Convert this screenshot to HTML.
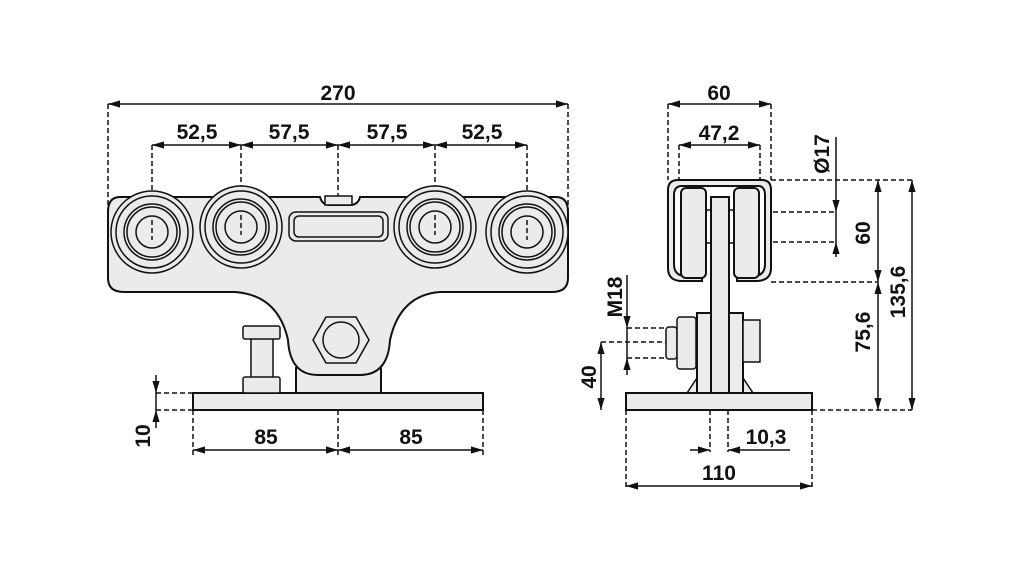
<!DOCTYPE html>
<html><head><meta charset="utf-8"><style>
html,body{margin:0;padding:0;background:#fff}
svg{display:block}
text{font-family:"Liberation Sans Narrow","Liberation Sans",sans-serif;font-weight:bold;font-size:21px;fill:#111}
</style></head><body>
<svg width="1021" height="568" viewBox="0 0 1021 568" xmlns="http://www.w3.org/2000/svg">
<defs>
<marker id="a" viewBox="0 0 10 10" refX="10" refY="5" markerWidth="8" markerHeight="8" orient="auto-start-reverse"><path d="M0,2 L10,5 L0,8 z" fill="#111"/></marker>
</defs>
<g stroke="#111" stroke-width="1.5" fill="none" stroke-dasharray="5,3">
<!-- left view extension lines -->
<path d="M108 104V210 M568 104V210 M152 145V235 M241 145V228 M338 145V200 M435 145V228 M527 145V228"/>
<path d="M156 393H193 M156 410H193 M193 410V455 M338 410V455 M483 410V455"/>
<!-- right view -->
<path d="M668 104V180 M771 104V180 M679 145V185 M760 145V185"/>
<path d="M771 180H912 M765 212H836 M765 242H836 M771 282H878 M812 410H912"/>
<path d="M627 328H668 M627 358H668 M601 342H680"/>
<path d="M626 410V490 M812 410V490 M710 410V452 M728 410V452"/>
</g>
<g stroke="#111" stroke-width="1.5" fill="none">
<line x1="108" y1="104" x2="568" y2="104" marker-start="url(#a)" marker-end="url(#a)"/>
<line x1="152" y1="145" x2="241" y2="145" marker-start="url(#a)" marker-end="url(#a)"/>
<line x1="241" y1="145" x2="338" y2="145" marker-start="url(#a)" marker-end="url(#a)"/>
<line x1="338" y1="145" x2="435" y2="145" marker-start="url(#a)" marker-end="url(#a)"/>
<line x1="435" y1="145" x2="527" y2="145" marker-start="url(#a)" marker-end="url(#a)"/>
<line x1="193" y1="450" x2="338" y2="450" marker-start="url(#a)" marker-end="url(#a)"/>
<line x1="338" y1="450" x2="483" y2="450" marker-start="url(#a)" marker-end="url(#a)"/>
<line x1="156" y1="375" x2="156" y2="393" marker-end="url(#a)"/>
<line x1="156" y1="428" x2="156" y2="410" marker-end="url(#a)"/>
<line x1="156" y1="393" x2="156" y2="410"/>
<line x1="668" y1="104" x2="771" y2="104" marker-start="url(#a)" marker-end="url(#a)"/>
<line x1="679" y1="145" x2="760" y2="145" marker-start="url(#a)" marker-end="url(#a)"/>
<line x1="836" y1="137" x2="836" y2="212" marker-end="url(#a)"/>
<line x1="836" y1="257" x2="836" y2="242" marker-end="url(#a)"/>
<line x1="836" y1="212" x2="836" y2="242"/>
<line x1="878" y1="180" x2="878" y2="282" marker-start="url(#a)" marker-end="url(#a)"/>
<line x1="878" y1="282" x2="878" y2="410" marker-start="url(#a)" marker-end="url(#a)"/>
<line x1="912" y1="180" x2="912" y2="410" marker-start="url(#a)" marker-end="url(#a)"/>
<line x1="627" y1="275" x2="627" y2="328" marker-end="url(#a)"/>
<line x1="627" y1="375" x2="627" y2="358" marker-end="url(#a)"/>
<line x1="627" y1="328" x2="627" y2="358"/>
<line x1="601" y1="342" x2="601" y2="410" marker-start="url(#a)" marker-end="url(#a)"/>
<line x1="690" y1="450" x2="710" y2="450" marker-end="url(#a)"/>
<line x1="790" y1="450" x2="728" y2="450" marker-end="url(#a)"/>
<line x1="626" y1="486" x2="812" y2="486" marker-start="url(#a)" marker-end="url(#a)"/>
</g>
<!-- LEFT VIEW -->
<g stroke="#111" stroke-width="2" fill="#ebebeb">
<rect x="296" y="368" width="85" height="26"/>
<rect x="193" y="393" width="290" height="17"/>
<rect x="251" y="338" width="22" height="42" stroke-width="1.5"/>
<rect x="243" y="326" width="37" height="13" rx="2" stroke-width="1.5"/>
<rect x="243" y="377" width="37" height="16" rx="2" stroke-width="1.5"/>
<path d="M120 197 H320 Q322 205 330 205 H350 Q358 205 360 197 H556 Q568 197 568 212 V278 Q568 292 552 292 H440 Q400 295 390 340 Q388 375 360 375 H318 Q290 375 288 340 Q278 295 235 292 H124 Q108 292 108 278 V212 Q108 197 120 197 Z"/>
<rect x="325" y="196" width="27" height="9" stroke-width="1.5"/>
<rect x="289" y="212" width="99" height="29" rx="7" stroke-width="1.5"/>
<rect x="294" y="216" width="89" height="21" rx="5" stroke-width="1.5"/>
<polygon points="313,340 326,317 356,317 369,340 356,363 326,363" stroke-width="1.5"/>
<circle cx="341" cy="340" r="18" stroke-width="1.5"/>
</g>
<g stroke="#111" stroke-width="1.5" fill="#ebebeb">
<g transform="translate(152,232)"><circle r="41"/><circle r="36"/><circle r="28"/><circle r="25"/><circle r="16"/></g>
<g transform="translate(241,227)"><circle r="41"/><circle r="36"/><circle r="28"/><circle r="25"/><circle r="16"/></g>
<g transform="translate(435,227)"><circle r="41"/><circle r="36"/><circle r="28"/><circle r="25"/><circle r="16"/></g>
<g transform="translate(527,232)"><circle r="41"/><circle r="36"/><circle r="28"/><circle r="25"/><circle r="16"/></g>
</g>
<g stroke="#111" stroke-width="1.5" stroke-dasharray="5,3"><path d="M152 220V240 M241 215V235 M435 215V235 M527 220V240"/></g>
<!-- RIGHT VIEW -->
<g stroke="#111" stroke-width="2" fill="#ebebeb">
<path d="M678 180 H762 Q771 180 771 190 V268 Q771 280 758 281 H737 V276 H755 Q765 275 765 264 V195 Q765 186 758 186 H682 Q674 186 674 195 V264 Q674 275 684 276 H702 V281 H680 Q668 280 668 268 V190 Q668 180 678 180 Z"/>
<rect x="681" y="188" width="25" height="90" rx="5"/>
<rect x="734" y="188" width="25" height="90" rx="5"/>
<path d="M706 210H734 M706 243H734" fill="none" stroke-width="1.5"/>
<path d="M687 393 L697 378 H743 L753 393 Z" stroke-width="1.5"/>
<rect x="697" y="313" width="46" height="80"/>
<rect x="711" y="197" width="18" height="196"/>
<rect x="743" y="320" width="17" height="42" stroke-width="1.5"/>
<rect x="666" y="327" width="11" height="32" rx="3" stroke-width="1.5"/>
<rect x="677" y="317" width="19" height="52" rx="3" stroke-width="1.5"/>
<rect x="626" y="393" width="186" height="17"/>
</g>
<!-- TEXT -->
<text x="338" y="100" text-anchor="middle">270</text>
<text x="197" y="139" text-anchor="middle">52,5</text>
<text x="289" y="139" text-anchor="middle">57,5</text>
<text x="387" y="139" text-anchor="middle">57,5</text>
<text x="482" y="139" text-anchor="middle">52,5</text>
<text x="266" y="444" text-anchor="middle">85</text>
<text x="411" y="444" text-anchor="middle">85</text>
<text transform="translate(150,436) rotate(-90)" text-anchor="middle">10</text>
<text x="719" y="100" text-anchor="middle">60</text>
<text x="719" y="140" text-anchor="middle">47,2</text>
<text transform="translate(829,154) rotate(-90)" text-anchor="middle">Ø17</text>
<text transform="translate(870,233) rotate(-90)" text-anchor="middle">60</text>
<text transform="translate(870,332) rotate(-90)" text-anchor="middle">75,6</text>
<text transform="translate(905,292) rotate(-90)" text-anchor="middle">135,6</text>
<text transform="translate(622,297) rotate(-90)" text-anchor="middle">M18</text>
<text transform="translate(596,377) rotate(-90)" text-anchor="middle">40</text>
<text x="766" y="444" text-anchor="middle">10,3</text>
<text x="719" y="480" text-anchor="middle">110</text>
</svg>
</body></html>
